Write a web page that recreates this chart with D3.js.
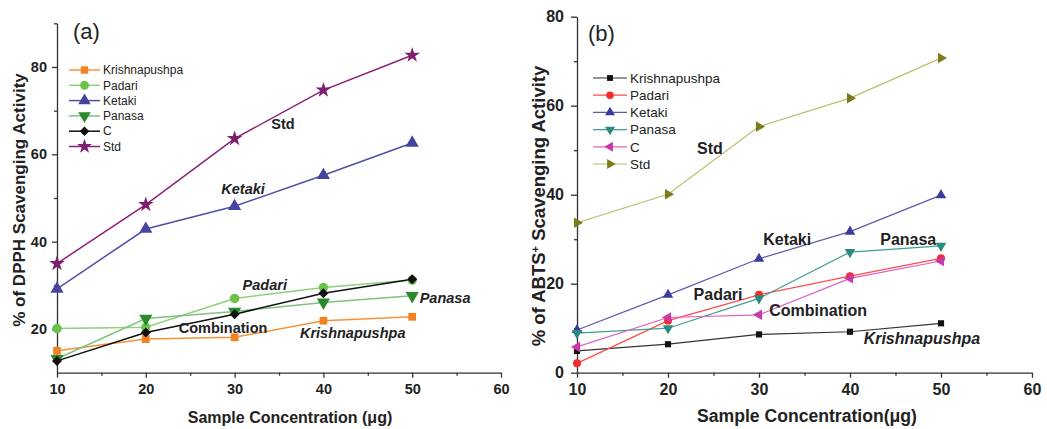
<!DOCTYPE html>
<html>
<head>
<meta charset="utf-8">
<script src="https://cdn.jsdelivr.net/npm/d3@7/dist/d3.min.js"></script>
<style>
    body { margin: 0; background: #fff; }
    svg text { font-family: "Liberation Sans", Arial, sans-serif; fill: #222; }
</style>
</head>
<body>
<script>

    // x values shared by both panels
    var concentrations = [10, 20, 30, 40, 50];
    var seriesNames = ["Krishnapushpa", "Padari", "Ketaki", "Panasa", "C", "Std"];
    var xTicks = [10, 20, 30, 40, 50, 60];

    // panel (a) - DPPH scavenging
    var dpphKrishnapushpa = [15.0, 17.7, 18.1, 21.9, 22.8];
    var dpphPadari        = [20.1, 20.4, 27.0, 29.5, 31.2];
    var dpphKetaki        = [29.2, 42.9, 48.1, 55.2, 62.6];
    var dpphPanasa        = [13.2, 22.4, 24.0, 26.1, 27.6];
    var dpphC             = [12.7, 19.2, 23.4, 28.2, 31.4];
    var dpphStd           = [35.0, 48.5, 63.6, 74.7, 82.7];
    var dpphTicks = [20, 40, 60, 80];

    // panel (b) - ABTS scavenging
    var abtsKrishnapushpa = [4.9, 6.4, 8.6, 9.2, 11.1];
    var abtsPadari        = [2.1, 11.7, 17.5, 21.7, 25.7];
    var abtsKetaki        = [9.6, 17.5, 25.6, 31.7, 39.9];
    var abtsPanasa        = [8.9, 10.0, 16.7, 27.1, 28.5];
    var abtsC             = [5.8, 12.4, 13.0, 21.2, 25.1];
    var abtsStd           = [33.7, 40.1, 55.3, 61.7, 70.7];
    var abtsTicks = [0, 20, 40, 60, 80];

    var width = 1047, height = 429;

    var svg = d3.select("body")
        .append("svg")
        .attr("width", width)
        .attr("height", height);

    /*
     * marker shapes, rotation used for the sideways / upside down triangles
     */
    var shapes = {
        square:   { type: d3.symbolSquare,   rot: 0 },
        circle:   { type: d3.symbolCircle,   rot: 0 },
        up:       { type: d3.symbolTriangle, rot: 0 },
        down:     { type: d3.symbolTriangle, rot: 180 },
        left:     { type: d3.symbolTriangle, rot: -90 },
        right:    { type: d3.symbolTriangle, rot: 90 },
        diamond:  { type: d3.symbolSquare,   rot: 45 },
        star:     { type: d3.symbolStar,     rot: 0 }
    };

    function marker(g, shape, size, fill, x, y) {
        var s = shapes[shape];
        g.append("path")
            .attr("d", d3.symbol().type(s.type).size(size)())
            .attr("transform", "translate(" + x + "," + y + ") rotate(" + s.rot + ")")
            .attr("fill", fill);
    }

    function drawPanel(p) {
        var g = svg.append("g");

        var x = d3.scaleLinear().domain([10, 60]).range(p.xRange);
        var y = d3.scaleLinear().domain(p.yDomain).range(p.yRange);

        // minor ticks first, no labels
        var xMinor = d3.range(15, 60, 10);
        g.append("g")
            .attr("transform", "translate(0," + p.yRange[0] + ")")
            .call(d3.axisBottom(x).tickValues(xMinor).tickSize(3).tickSizeOuter(0).tickFormat(""))
            .call(s => s.select(".domain").remove());
        g.append("g")
            .attr("transform", "translate(" + p.xRange[0] + ",0)")
            .call(d3.axisLeft(y).tickValues(p.yMinor).tickSize(3).tickSizeOuter(0).tickFormat(""))
            .call(s => s.select(".domain").remove());

        var xAxisGroup = g.append("g")
            .attr("transform", "translate(0," + p.yRange[0] + ")")
            .call(d3.axisBottom(x).tickValues(xTicks).tickSize(5).tickSizeOuter(0).tickPadding(6));
        var yAxisGroup = g.append("g")
            .attr("transform", "translate(" + p.xRange[0] + ",0)")
            .call(d3.axisLeft(y).tickValues(p.yTicks).tickSize(p.yTickLen).tickSizeOuter(0).tickPadding(p.yTickPad));

        g.selectAll(".tick line, .domain").attr("stroke", "#333").attr("stroke-width", 1.3);
        xAxisGroup.selectAll("text").attr("font-size", p.tickFont).attr("font-weight", "bold")
            .attr("font-family", "Liberation Sans, Arial, sans-serif").attr("fill", "#222");
        yAxisGroup.selectAll("text").attr("font-size", p.tickFont).attr("font-weight", "bold")
            .attr("font-family", "Liberation Sans, Arial, sans-serif").attr("fill", "#222");

        // axis titles
        g.append("text")
            .attr("x", p.xTitlePos[0]).attr("y", p.xTitlePos[1])
            .attr("text-anchor", "middle")
            .attr("font-size", p.xTitleFont).attr("font-weight", "bold")
            .text(p.xTitle);

        var yt = g.append("text")
            .attr("transform", "translate(" + p.yTitlePos[0] + "," + p.yTitlePos[1] + ") rotate(-90)")
            .attr("text-anchor", "middle")
            .attr("font-size", p.yTitleFont).attr("font-weight", "bold");
        p.yTitle(yt);

        // panel letter
        g.append("text")
            .attr("x", p.letterPos[0]).attr("y", p.letterPos[1])
            .attr("font-size", 22)
            .text(p.letter);

        // lines then markers
        var line = d3.line()
            .x(function (d, i) { return x(concentrations[i]); })
            .y(function (d) { return y(d); });

        p.series.forEach(function (s) {
            g.append("path")
                .datum(s.values)
                .attr("d", line)
                .attr("fill", "none")
                .attr("stroke", s.line)
                .attr("stroke-width", p.lineWidth);
        });
        p.series.forEach(function (s) {
            s.values.forEach(function (v, i) {
                marker(g, s.shape, s.size, s.fill, x(concentrations[i]), y(v));
            });
        });

        // legend
        p.series.forEach(function (s, i) {
            var ly = p.legend.y + i * p.legend.step;
            g.append("line")
                .attr("x1", p.legend.x).attr("x2", p.legend.x + p.legend.len)
                .attr("y1", ly).attr("y2", ly)
                .attr("stroke", s.line).attr("stroke-width", p.lineWidth);
            marker(g, s.shape, s.size * 0.9, s.fill, p.legend.x + p.legend.len / 2, ly);
            g.append("text")
                .attr("x", p.legend.x + p.legend.len + 3).attr("y", ly)
                .attr("dy", "0.35em")
                .attr("font-size", p.legend.font)
                .text(s.name);
        });

        // in-plot labels
        p.notes.forEach(function (n) {
            g.append("text")
                .attr("x", x(n[1])).attr("y", y(n[2]))
                .attr("dy", "0.35em")
                .attr("text-anchor", "middle")
                .attr("font-size", p.noteFont)
                .attr("font-weight", "bold")
                .attr("font-style", n[3] ? "italic" : "normal")
                .text(n[0]);
        });
    }

    // panel (a)
    var dpphData = [dpphKrishnapushpa, dpphPadari, dpphKetaki, dpphPanasa, dpphC, dpphStd];
    var dpphStyle = [
        { line: "#f7913a", fill: "#f58220", shape: "square",  size: 60 },
        { line: "#8fd07a", fill: "#6cc24a", shape: "circle",  size: 70 },
        { line: "#4f4fa8", fill: "#45449e", shape: "up",      size: 75 },
        { line: "#7fc27f", fill: "#2b8a2b", shape: "down",    size: 75 },
        { line: "#111111", fill: "#111111", shape: "diamond", size: 50 },
        { line: "#8a2079", fill: "#7d1f70", shape: "star",    size: 75 }
    ];

    drawPanel({
        xRange: [57, 501], yDomain: [10, 90], yRange: [372.7, 23.3],
        yTicks: dpphTicks, yMinor: [30, 50, 70, 90], yTickLen: 5, yTickPad: 5,
        tickFont: 14.5, xTitleFont: 16, yTitleFont: 17, lineWidth: 1.5, noteFont: 14.5,
        xTitle: "Sample Concentration (\u03bcg)", xTitlePos: [290, 423],
        yTitlePos: [25, 200],
        yTitle: function (t) { t.text("% of DPPH Scavenging Activity"); },
        letter: "(a)", letterPos: [73, 39],
        legend: { x: 69, y: 70, step: 15.3, len: 31, font: 12 },
        series: seriesNames.map(function (n, i) {
            return Object.assign({ name: n, values: dpphData[i] }, dpphStyle[i]);
        }),
        notes: [
            ["Std", 35.45, 66.9, false],
            ["Ketaki", 30.95, 52.1, true],
            ["Padari", 33.4, 30.1, true],
            ["Panasa", 53.7, 27.1, true],
            ["Combination", 28.7, 20.2, false],
            ["Krishnapushpa", 43.3, 19.1, true]
        ]
    });

    // panel (b)
    var abtsData = [abtsKrishnapushpa, abtsPadari, abtsKetaki, abtsPanasa, abtsC, abtsStd];
    var abtsStyle = [
        { line: "#333333", fill: "#111111", shape: "square", size: 38 },
        { line: "#ff4a4a", fill: "#f52a2a", shape: "circle", size: 50 },
        { line: "#5a5ab0", fill: "#3c3c9c", shape: "up",     size: 48 },
        { line: "#3f9f90", fill: "#2a8a80", shape: "down",   size: 48 },
        { line: "#e060c0", fill: "#c93aa8", shape: "left",   size: 48 },
        { line: "#bcbd6a", fill: "#7c7c1e", shape: "right",  size: 48 }
    ];

    drawPanel({
        xRange: [577, 1032], yDomain: [0, 80], yRange: [372.7, 16.7],
        yTicks: abtsTicks, yMinor: [10, 30, 50, 70], yTickLen: 6, yTickPad: 7,
        tickFont: 16, xTitleFont: 17.6, yTitleFont: 18.5, lineWidth: 1.2, noteFont: 16,
        xTitle: "Sample Concentration(\u03bcg)", xTitlePos: [807, 422],
        yTitlePos: [545, 206],
        yTitle: function (t) {
            t.append("tspan").text("% of ABTS");
            t.append("tspan").attr("baseline-shift", "super").attr("font-size", 11).text("+");
            t.append("tspan").text(" Scavenging Activity");
        },
        letter: "(b)", letterPos: [588, 41],
        legend: { x: 593, y: 78, step: 17.2, len: 34, font: 13.5 },
        series: seriesNames.map(function (n, i) {
            return Object.assign({ name: n, values: abtsData[i] }, abtsStyle[i]);
        }),
        notes: [
            ["Std", 24.6, 50.3, false],
            ["Ketaki", 33.1, 30.0, false],
            ["Panasa", 46.4, 30.0, false],
            ["Padari", 25.5, 17.7, false],
            ["Combination", 36.5, 13.9, false],
            ["Krishnapushpa", 47.9, 7.6, true]
        ]
    });

</script>
</body>
</html>
